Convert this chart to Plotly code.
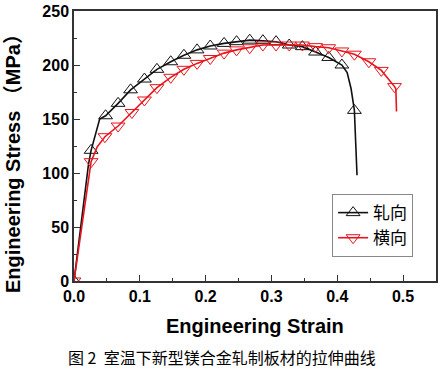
import plotly.graph_objects as go

# ---- data ----
# 轧向 (rolling direction): marker points
rd_mark_strain = [0.0, 0.026, 0.048, 0.067, 0.086, 0.107, 0.126, 0.147, 0.167, 0.187, 0.207,
                  0.228, 0.247, 0.267, 0.287, 0.307, 0.327, 0.347, 0.367, 0.387, 0.407, 0.426]
rd_mark_stress = [0, 121, 153, 164.5, 177, 187, 196, 203, 209, 214, 217.6,
                  220, 221.6, 223, 222.5, 221.6, 218.5, 217, 212, 207, 200, 158]
# additional curve points (no markers)
rd_extra_strain = [0.022, 0.033, 0.039, 0.415, 0.421, 0.428, 0.430]
rd_extra_stress = [108, 138, 150, 193, 178, 128, 98]

# 横向 (transverse direction): marker points
td_mark_strain = [0.0, 0.026, 0.047, 0.067, 0.088, 0.107, 0.126, 0.147, 0.167, 0.187, 0.207,
                  0.228, 0.247, 0.267, 0.287, 0.307, 0.327, 0.347, 0.367, 0.387, 0.407,
                  0.426, 0.448, 0.467, 0.487]
td_mark_stress = [0, 110.5, 133.6, 143.5, 156, 167.6, 179, 188.6, 196, 201.5, 206,
                  211, 214, 216, 218.5, 218.5, 218.5, 218.5, 217, 216, 213,
                  210, 203, 195, 180]
td_extra_strain = [0.024, 0.035, 0.489, 0.490]
td_extra_stress = [104, 124, 178, 157]

series_names = ["轧向", "横向"]
x_ticks = [0.0, 0.1, 0.2, 0.3, 0.4, 0.5]
y_ticks = [0, 50, 100, 150, 200, 250]
x_title = "Engineering Strain"
y_title = "Engineering Stress （MPa）"
caption = "图 2  室温下新型镁合金轧制板材的拉伸曲线"


def merge(xs1, ys1, xs2, ys2):
    pts = sorted(zip(list(xs1) + list(xs2), list(ys1) + list(ys2)))
    return [p[0] for p in pts], [p[1] for p in pts]


rd_x, rd_y = merge(rd_mark_strain, rd_mark_stress, rd_extra_strain, rd_extra_stress)
td_x, td_y = merge(td_mark_strain, td_mark_stress, td_extra_strain, td_extra_stress)

BLACK = "#111111"
RED = "#e8141c"
LAT = "Liberation Sans, Arial, Noto Sans CJK SC, sans-serif"
CJK = "Noto Sans CJK SC, sans-serif"

fig = go.Figure()
# black curve
fig.add_trace(go.Scatter(x=rd_x, y=rd_y, mode="lines", line=dict(color=BLACK, width=1.6),
                         showlegend=False, hoverinfo="skip"))
fig.add_trace(go.Scatter(x=rd_mark_strain, y=rd_mark_stress, mode="markers",
                         marker=dict(symbol="triangle-up-open", size=12, color=BLACK,
                                     line=dict(width=1, color=BLACK)),
                         showlegend=False))
# red curve
fig.add_trace(go.Scatter(x=td_x, y=td_y, mode="lines", line=dict(color=RED, width=1.6),
                         showlegend=False, hoverinfo="skip"))
fig.add_trace(go.Scatter(x=td_mark_strain, y=td_mark_stress, mode="markers",
                         marker=dict(symbol="triangle-down-open", size=12, color=RED,
                                     line=dict(width=1, color=RED)),
                         showlegend=False))
# legend entries
fig.add_trace(go.Scatter(x=[None], y=[None], mode="lines+markers", name=series_names[0],
                         line=dict(color=BLACK, width=1.6),
                         marker=dict(symbol="triangle-up-open", size=12, color=BLACK)))
fig.add_trace(go.Scatter(x=[None], y=[None], mode="lines+markers", name=series_names[1],
                         line=dict(color=RED, width=1.6),
                         marker=dict(symbol="triangle-down-open", size=12, color=RED)))

axis_common = dict(
    showgrid=False, zeroline=False, showline=True, linecolor="#333333", linewidth=1.5,
    mirror=True, ticks="inside", ticklen=6, tickwidth=1, tickcolor="#333333",
    tickfont=dict(family=LAT, size=16, color="black", weight="bold"),
    automargin=False,
)

fig.update_xaxes(range=[0, 0.55], tickvals=x_ticks, ticktext=[f"{v:.1f}" for v in x_ticks],
                 minor=dict(ticks="inside", dtick=0.05, ticklen=3, tickcolor="#333333"),
                 **axis_common)
fig.update_yaxes(range=[0, 250], tickvals=y_ticks, ticktext=[str(v) for v in y_ticks],
                 minor=dict(ticks="inside", dtick=25, ticklen=3, tickcolor="#333333"),
                 **axis_common)

fig.add_annotation(text=x_title, xref="paper", yref="paper", x=0.5, y=0, yshift=-45,
                   xanchor="center", yanchor="middle", showarrow=False,
                   font=dict(family=LAT, size=20, color="black", weight="bold"))
fig.add_annotation(text=y_title, xref="paper", yref="paper", x=0, y=0.5, xshift=-61,
                   yshift=-13, textangle=-90, xanchor="center", yanchor="middle",
                   showarrow=False,
                   font=dict(family=LAT, size=20, color="black", weight="bold"))
fig.add_annotation(text=caption, xref="paper", yref="paper", x=0.408, y=0, yshift=-76,
                   xanchor="center", yanchor="middle", showarrow=False,
                   font=dict(family=CJK, size=16, color="black"))

fig.update_layout(
    width=442, height=368,
    margin=dict(l=74, r=6, t=11, b=87),
    paper_bgcolor="white", plot_bgcolor="white",
    legend=dict(x=0.713, y=0.322, xanchor="left", yanchor="top",
                bordercolor="#888888", borderwidth=1, bgcolor="white",
                font=dict(family=CJK, size=17, color="black"),
                tracegroupgap=0, itemwidth=30),
)

fig.write_html("out.html", config={"displayModeBar": False},
               post_script="document.body.style.margin='0';document.body.style.padding='0';")
